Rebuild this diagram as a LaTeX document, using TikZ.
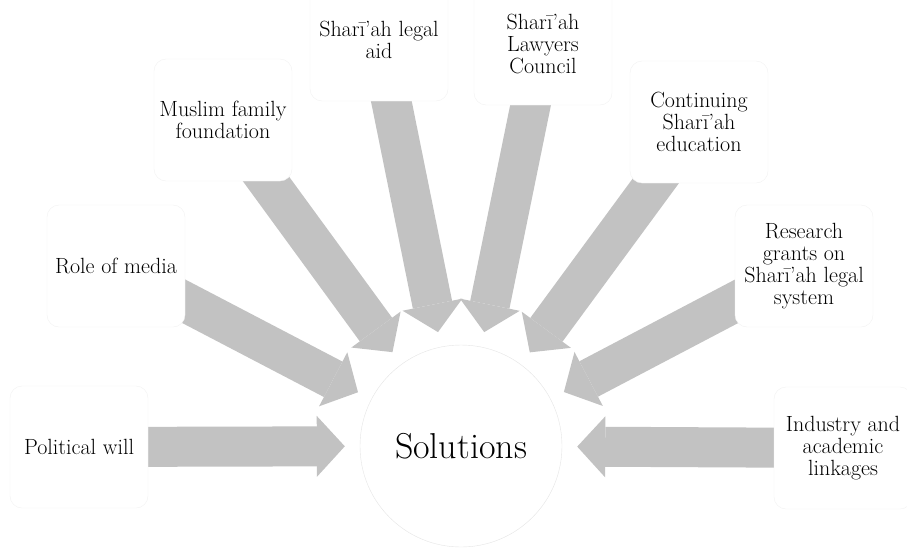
\documentclass[tikz,border=0pt]{standalone}
\usepackage{fontspec}
\usepackage{tikz}
\usetikzlibrary{arrows.meta}
\pgfdeclarelayer{bg}
\pgfsetlayers{bg,main}

\begin{document}
\begin{tikzpicture}[x=1pt,y=-1pt,every node/.style={inner sep=0pt},
  box/.style={draw=black!5,fill=white,rounded corners=12pt,minimum width=138pt,minimum height=122pt,align=center,font=\fontsize{22}{22}\selectfont},
  arr/.style={draw=black!24,line width=40pt,-{Triangle[width=61pt,length=28pt,line width=0pt]},shorten <=-30pt,shorten >=15pt}]
\useasboundingbox (0,0) rectangle (907,557);
\node[circle,draw=black!10,fill=white,minimum size=202pt,font=\fontsize{36}{40}\selectfont](sol) at (461,446){Solutions} ;
\node[box](pw) at (79,447){Political will} ;
\node[box](rm) at (116,266){Role of media} ;
\node[box](mf) at (223,120){Muslim family\\foundation} ;
\node[box](la) at (379,40){Sharī’ah legal\\aid} ;
\node[box](lc) at (543,44){Sharī’ah\\Lawyers\\Council} ;
\node[box](ce) at (699,122){Continuing\\Sharī’ah\\education} ;
\node[box](rg) at (804,266){Research\\grants on\\Sharī’ah legal\\system} ;
\node[box](ia) at (843,448){Industry and\\academic\\linkages} ;
\begin{pgfonlayer}{bg}
\draw[arr](pw) -- (sol);
\draw[arr](rm) -- (sol);
\draw[arr](mf) -- (sol);
\draw[arr](la) -- (sol);
\draw[arr](lc) -- (sol);
\draw[arr](ce) -- (sol);
\draw[arr](rg) -- (sol);
\draw[arr](ia) -- (sol);
\end{pgfonlayer}
\end{tikzpicture}
\end{document}
